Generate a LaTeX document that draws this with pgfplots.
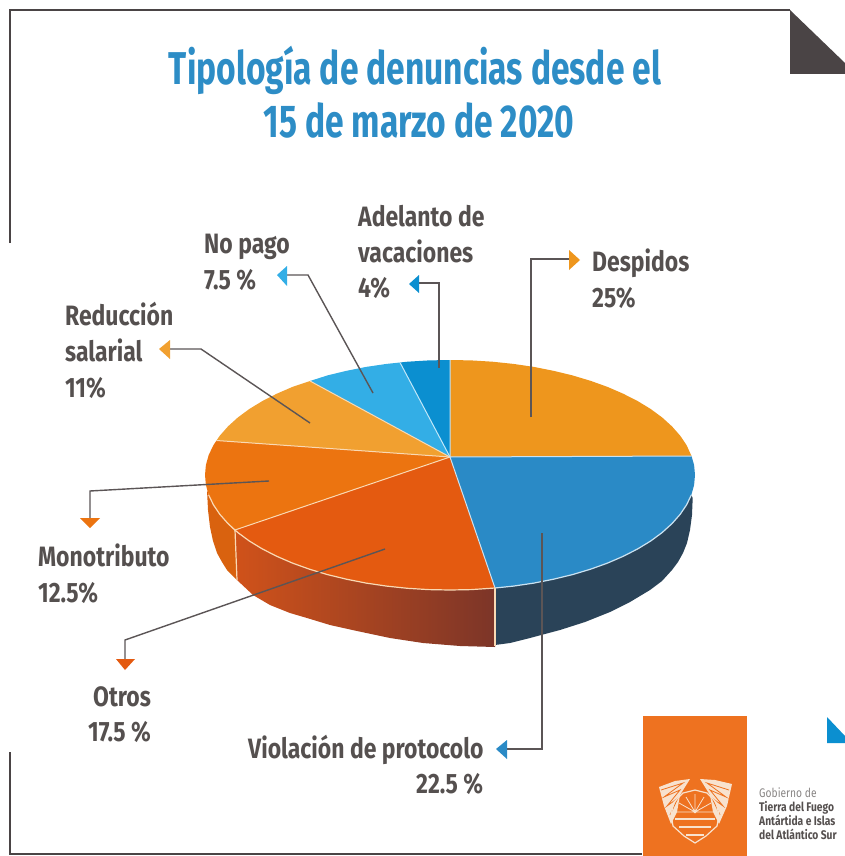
\documentclass[border=0pt]{standalone}
\usepackage{pgfplots}
\usepackage{fontspec}
\pgfplotsset{compat=1.18}
\setmainfont{Fira Sans}[FakeStretch=0.82]
\newfontfamily\titlefont{Fira Sans}[FakeStretch=0.73]
\definecolor{titleblue}{HTML}{2D8DC6}
\definecolor{txt}{HTML}{55504F}
\definecolor{frame}{HTML}{4A4445}
\definecolor{leader}{HTML}{5B5556}
\definecolor{cDesp}{HTML}{EE961D}
\definecolor{cViol}{HTML}{2A8AC6}
\definecolor{cOtros}{HTML}{E45A10}
\definecolor{cMono}{HTML}{EC7410}
\definecolor{cRed}{HTML}{F1A030}
\definecolor{cNoPago}{HTML}{33AEE6}
\definecolor{cAdel}{HTML}{0B8FD0}
\definecolor{cream}{HTML}{F9D9B4}
\definecolor{pale}{HTML}{F8E2CE}
\definecolor{logo}{HTML}{EE7220}
\definecolor{sideBlue}{HTML}{2A4358}
\definecolor{sideL}{HTML}{D0521A}
\definecolor{sideR}{HTML}{7C3528}
\definecolor{sideM}{HTML}{D9620F}
\newcommand{\lab}[3]{\node[anchor=base west,inner sep=0pt,text=txt,font=\fontsize{28}{28}\selectfont\bfseries] at (axis cs:#1,#2) {#3};}
\begin{document}
\begin{tikzpicture}
\begin{axis}[
    scale only axis,
    width=845pt,
    height=856pt,
    xmin=0, xmax=845,
    ymin=0, ymax=856,
    y dir=reverse,
    axis lines=none,
    clip=true,
]
% keep the whole page in the bounding box
\path (axis cs:0,0) rectangle (axis cs:845,856);
% frame
\addplot[color=frame, line width=2.5pt] coordinates {(10,243) (10,10) (790,10)};
\addplot[color=frame, line width=2.5pt] coordinates {(10,752) (10,854) (642,854)};
\addplot[fill=frame, draw=none] coordinates {(790,10) (845,63) (845,74) (790,74)} -- cycle;
\addplot[fill=cAdel, draw=none] coordinates {(827,717) (845,736) (845,743) (827,743)} -- cycle;

% side of the pie
\addplot[fill=sideBlue, draw=none] coordinates {(691.3,495) (686.6,504.8) (680.2,514.3) (672,523.6) (662.2,532.5) (650.7,541) (637.7,548.9) (623.2,556.3) (607.5,563.1) (590.5,569.2) (572.5,574.6) (553.5,579.2) (533.8,583.1) (513.4,586.1) (495,588) (495,645) (510,643) (530,638) (560,630) (585,622) (610,612) (630,602) (650,590) (662,581) (672,570) (678,562) (683,553) (687,543) (690,530) (692,515) (692.7,498)} -- cycle;
\addplot[left color=sideL, right color=sideR, draw=none] coordinates {(495,588) (471.4,589.6) (450,590) (428.6,589.6) (407.5,588.3) (386.6,586.1) (366.2,583.1) (346.5,579.2) (327.5,574.6) (309.5,569.2) (292.5,563.1) (276.8,556.3) (262.3,548.9) (249.3,541) (235,531) (237,580) (253,595) (270,605) (290,613) (307,618) (330,625) (357,631) (390,638) (423,643) (460,646) (495,647)} -- cycle;
\addplot[fill=sideM, draw=none] coordinates {(235,531) (228,523.6) (219.8,514.3) (213.4,504.8) (208.7,495) (207,490) (208,510) (210,527) (213,541) (217,553) (222,562) (227,570) (237,580)} -- cycle;

% top: 25, 22.5, 17.5, 12.5, 11, 7.5, 4 (%)
\addplot[fill=cDesp, draw=none] coordinates {(450,457) (450,360) (471.4,360.4) (492.5,361.7) (513.4,363.9) (533.8,366.9) (553.5,370.8) (572.5,375.4) (590.5,380.8) (607.5,386.9) (623.2,393.7) (637.7,401.1) (650.7,409) (662.2,417.5) (672,426.4) (680.2,435.7) (686.6,445.2) (691.5,456)} -- cycle;
\addplot[fill=cViol, draw=none] coordinates {(450,457) (691.5,456) (694.1,465) (695,475) (694.1,485) (691.3,495) (686.6,504.8) (680.2,514.3) (672,523.6) (662.2,532.5) (650.7,541) (637.7,548.9) (623.2,556.3) (607.5,563.1) (590.5,569.2) (572.5,574.6) (553.5,579.2) (533.8,583.1) (513.4,586.1) (495,588)} -- cycle;
\addplot[fill=cOtros, draw=none] coordinates {(450,457) (495,588) (471.4,589.6) (450,590) (428.6,589.6) (407.5,588.3) (386.6,586.1) (366.2,583.1) (346.5,579.2) (327.5,574.6) (309.5,569.2) (292.5,563.1) (276.8,556.3) (262.3,548.9) (249.3,541) (237.8,532.5) (235,530)} -- cycle;
\addplot[fill=cMono, draw=none] coordinates {(450,457) (235,530) (228,523.6) (219.8,514.3) (213.4,504.8) (208.7,495) (205.9,485) (205,475) (205.9,465) (208.7,455) (213.4,445.2) (216.5,440.5)} -- cycle;
\addplot[fill=cRed, draw=none] coordinates {(450,457) (216.5,440.5) (219.8,435.7) (228,426.4) (237.8,417.5) (249.3,409) (262.3,401.1) (276.8,393.7) (292.5,386.9) (310,381)} -- cycle;
\addplot[fill=cNoPago, draw=none] coordinates {(450,457) (310,381) (327.5,375.4) (346.5,370.8) (366.2,366.9) (386.6,363.9) (400,362.5)} -- cycle;
\addplot[fill=cAdel, draw=none] coordinates {(450,457) (400,362.5) (407.5,361.7) (428.6,360.4) (450,360)} -- cycle;

% separators and rim
\addplot[color=cream, line width=1pt] coordinates {(450,457) (235,530)};
\addplot[color=cream, line width=1pt] coordinates {(450,457) (216.5,440.5)};
\addplot[color=cream, line width=1pt] coordinates {(450,457) (310,381)};
\addplot[color=white!70!cNoPago, line width=1pt] coordinates {(450,457) (400,362.5)};
\addplot[color=white!75!cViol, line width=1pt] coordinates {(450,360) (450,457) (691.5,456)};
\addplot[color=white!75!cViol, line width=1pt] coordinates {(450,457) (495,588)};
\addplot[color=white!75!cViol, line width=1.2pt] coordinates {(691.3,495) (686.6,504.8) (680.2,514.3) (672,523.6) (662.2,532.5) (650.7,541) (637.7,548.9) (623.2,556.3) (607.5,563.1) (590.5,569.2) (572.5,574.6) (553.5,579.2) (533.8,583.1) (513.4,586.1) (495,588)};
\addplot[color=cream, line width=1.2pt] coordinates {(495,588) (471.4,589.6) (450,590) (428.6,589.6) (407.5,588.3) (386.6,586.1) (366.2,583.1) (346.5,579.2) (327.5,574.6) (309.5,569.2) (292.5,563.1) (276.8,556.3) (262.3,548.9) (249.3,541) (237.8,532.5) (235,530) (228,523.6) (219.8,514.3) (213.4,504.8) (208.7,495)};
\addplot[color=cream, line width=1.2pt] coordinates {(495,588) (495,646)};
\addplot[color=cream, line width=1.2pt] coordinates {(235,530) (237,580)};

% leaders
\addplot[color=leader, line width=1.4pt] coordinates {(531,417) (531,259) (570,259)};
\addplot[color=leader, line width=1.4pt] coordinates {(439,368) (439,283) (417,283)};
\addplot[color=leader, line width=1.4pt] coordinates {(373,393) (308,275) (285,275)};
\addplot[color=leader, line width=1.4pt] coordinates {(310,423) (201,349) (169,349)};
\addplot[color=leader, line width=1.4pt] coordinates {(269,481) (90,491) (90,518)};
\addplot[color=leader, line width=1.4pt] coordinates {(385,549) (125,640) (125,659)};
\addplot[color=leader, line width=1.4pt] coordinates {(542,533) (542,749) (506,749)};
% arrow heads
\addplot[fill=cDesp, draw=none] coordinates {(569,250) (580,260) (569,270)} -- cycle;
\addplot[fill=cAdel, draw=none] coordinates {(419,275) (409,284) (419,293)} -- cycle;
\addplot[fill=cNoPago, draw=none] coordinates {(287,266) (277,275) (287,286)} -- cycle;
\addplot[fill=cRed, draw=none] coordinates {(170,340) (159,349) (170,359)} -- cycle;
\addplot[fill=cMono, draw=none] coordinates {(80,518) (90,528) (100,518)} -- cycle;
\addplot[fill=cOtros, draw=none] coordinates {(116,659) (125,670) (135,659)} -- cycle;
\addplot[fill=cViol, draw=none] coordinates {(507,740) (496,749) (507,759)} -- cycle;

% logo
\addplot[fill=logo, draw=none] coordinates {(643,716) (747,716) (747,856) (643,856)} -- cycle;
\addplot[fill=pale, draw=none] coordinates {(659,787) (675,781) (690,779) (680,795) (677,812) (671,824) (664,806)} -- cycle;
\addplot[fill=pale, draw=none] coordinates {(732,784) (715,780) (700,779) (710,795) (713,812) (719,824) (727,806)} -- cycle;
\addplot[color=logo, line width=0.8pt] coordinates {(661,790) (683,783) (664,797) (680,790) (667,806) (678,798) (670,815)};
\addplot[color=logo, line width=0.8pt] coordinates {(729,790) (707,783) (726,797) (710,790) (723,806) (712,798) (720,815)};
\addplot[color=pale, line width=1.2pt] coordinates {(695,790) (707,793) (716,802) (719,815) (717,826) (706,836) (695,843) (684,836) (673,826) (671,815) (674,802) (683,793) (695,790)};
\addplot[color=pale, line width=0.8pt] coordinates {(695,812) (677,812) (695,812) (679,803) (695,812) (686,797) (695,812) (695,794) (695,812) (704,797) (695,812) (711,803) (695,812) (713,812)};
\addplot[color=pale, line width=1.6pt] coordinates {(675,819) (715,819)};
\addplot[color=pale, line width=1.6pt] coordinates {(679,827) (711,827)};
\addplot[color=pale, line width=1.6pt] coordinates {(686,835) (704,835)};

% title
\node[anchor=base, text=titleblue, font=\fontsize{46}{46}\titlefont\bfseries, inner sep=0pt] at (axis cs:415,85) {Tipología de denuncias desde el};
\node[anchor=base, text=titleblue, font=\fontsize{46}{46}\titlefont\bfseries, inner sep=0pt] at (axis cs:419,138) {15 de marzo de 2020};

% labels
\lab{358}{226}{Adelanto de}
\lab{358}{262}{vacaciones}
\lab{358}{297}{4\%}
\lab{592}{271}{Despidos}
\lab{592}{307}{25\%}
\lab{204}{253}{No pago}
\lab{204}{289}{7.5 \%}
\lab{65}{325}{Reducción}
\lab{65}{361}{salarial}
\lab{65}{397}{11\%}
\lab{38}{566}{Monotributo}
\lab{38}{602}{12.5\%}
\lab{93}{706}{Otros}
\lab{88}{741}{17.5 \%}
\lab{248}{758}{Violación de protocolo}
\lab{416}{793}{22.5 \%}

% logo text
\node[anchor=base west, inner sep=0pt, text=txt!70, font=\fontsize{12.5}{13}\selectfont] at (axis cs:759,797) {Gobierno de};
\node[anchor=base west, inner sep=0pt, text=txt, font=\fontsize{12.5}{13}\selectfont\bfseries] at (axis cs:759,811) {Tierra del Fuego};
\node[anchor=base west, inner sep=0pt, text=txt, font=\fontsize{12.5}{13}\selectfont\bfseries] at (axis cs:759,825) {Antártida e Islas};
\node[anchor=base west, inner sep=0pt, text=txt, font=\fontsize{12.5}{13}\selectfont\bfseries] at (axis cs:759,839) {del Atlántico Sur};
\end{axis}
\end{tikzpicture}
\end{document}
